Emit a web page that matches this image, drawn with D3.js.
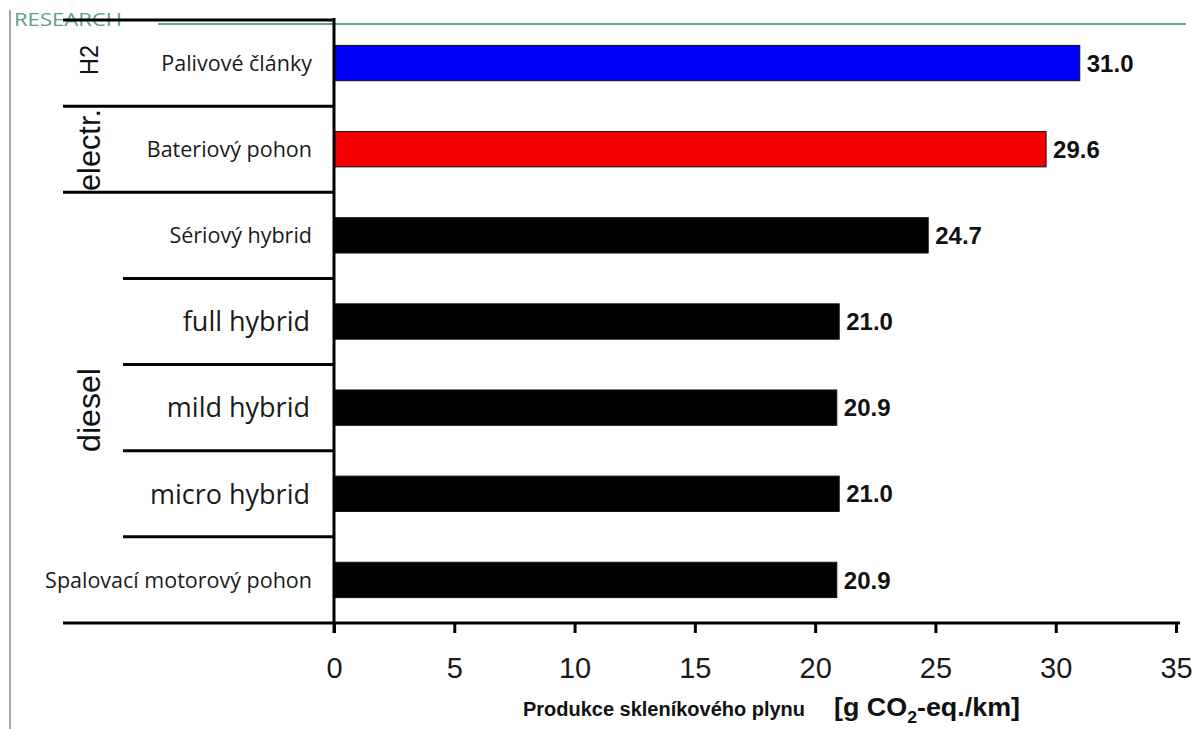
<!DOCTYPE html>
<html lang="cs">
<head>
  <meta charset="utf-8">
  <title>Produkce skleníkového plynu</title>
  <script src="https://d3js.org/d3.v7.min.js"></script>
  <style>
    body { margin: 0; background: #fff; }
    svg { display: block; }
  </style>
</head>
<body>
  <script>
  // data
  var categories = ['Palivové články', 'Bateriový pohon', 'Sériový hybrid',
    'full hybrid', 'mild hybrid', 'micro hybrid', 'Spalovací motorový pohon'];
  var values = [31.0, 29.6, 24.7, 21.0, 20.9, 21.0, 20.9];
  var barColors = ['#0000f5', '#f50000', '#000', '#000', '#000', '#000', '#000'];
  var bigLabel = [false, false, false, true, true, true, false];
  var groups = ['H2', 'electr.', 'diesel'];
  var groupSizes = [1, 1, 5];
  var ticks = [0, 5, 10, 15, 20, 25, 30, 35];

  var w = 1201, h = 729;
  var svg = d3.select('body').append('svg')
    .attr('width', w)
    .attr('height', h);

  var plotTop = 20, plotBottom = 623;
  var x = d3.scaleLinear().domain([0, 35]).range([334, 1176]);
  var y = d3.scaleBand()
    .domain(categories)
    .range([plotTop, plotBottom])
    .paddingInner(0.59)
    .paddingOuter(0.295);
  var step = y.step();

  // page decoration
  svg.append('line')
    .attr('x1', 10).attr('x2', 10).attr('y1', 10).attr('y2', h)
    .style('stroke', '#888').style('stroke-width', 1.5);
  svg.append('text')
    .attr('x', 14).attr('y', 26)
    .attr('textLength', 108)
    .attr('lengthAdjust', 'spacingAndGlyphs')
    .style('font-family', 'Open Sans, sans-serif')
    .style('font-size', '18px')
    .style('fill', '#5e9e8c')
    .text('RESEARCH');
  svg.append('line')
    .attr('x1', 158).attr('x2', 1186).attr('y1', 24).attr('y2', 24)
    .style('stroke', '#5aa58c').style('stroke-width', 2);

  // bars
  svg.selectAll('rect.bar')
    .data(values)
    .enter().append('rect')
    .attr('class', 'bar')
    .attr('x', x(0))
    .attr('y', function(d, i) { return y(categories[i]); })
    .attr('width', function(d) { return x(d) - x(0); })
    .attr('height', y.bandwidth())
    .style('fill', function(d, i) { return barColors[i]; })
    .style('stroke', '#111')
    .style('stroke-width', 1);

  svg.selectAll('text.val')
    .data(values)
    .enter().append('text')
    .attr('class', 'val')
    .attr('x', function(d) { return x(d) + 7; })
    .attr('y', function(d, i) { return y(categories[i]) + y.bandwidth() / 2; })
    .attr('dy', '0.36em')
    .style('font-family', 'Liberation Sans, Arial, sans-serif')
    .style('font-weight', 'bold')
    .style('font-size', '24px')
    .style('fill', '#111')
    .text(function(d) { return d.toFixed(1); });

  // category labels
  svg.selectAll('text.cat')
    .data(categories)
    .enter().append('text')
    .attr('class', 'cat')
    .attr('x', function(d, i) { return bigLabel[i] ? 310 : 312; })
    .attr('y', function(d) { return y(d) + y.bandwidth() / 2; })
    .attr('dy', '0.36em')
    .attr('text-anchor', 'end')
    .style('font-family', 'Open Sans, sans-serif')
    .style('font-size', function(d, i) { return bigLabel[i] ? '27px' : '21.5px'; })
    .style('fill', '#1a1a1a')
    .text(function(d) { return d; });

  // separators between rows (longer at group edges)
  var edges = [0];
  groupSizes.forEach(function(n, i) { edges.push(edges[i] + n); });
  var seps = d3.range(categories.length + 1);
  svg.selectAll('line.sep')
    .data(seps)
    .enter().append('line')
    .attr('class', 'sep')
    .attr('x1', function(k) { return edges.indexOf(k) >= 0 ? 63 : 123; })
    .attr('x2', function(k) { return k === categories.length ? 1180 : x(0); })
    .attr('y1', function(k) { return plotTop + k * step; })
    .attr('y2', function(k) { return plotTop + k * step; })
    .style('stroke', '#000')
    .style('stroke-width', 3);

  // group labels, rotated
  var groupSize = [25, 31, 31];
  var groupLen = [30, 82, 84];
  var groupMid = [60, 150, 410];
  svg.selectAll('text.grp')
    .data(groups)
    .enter().append('text')
    .attr('class', 'grp')
    .attr('transform', function(d, i) {
      return 'translate(' + [i === 0 ? 98 : 100, groupMid[i]] + ') rotate(-90)';
    })
    .attr('text-anchor', 'middle')
    .attr('textLength', function(d, i) { return groupLen[i]; })
    .attr('lengthAdjust', 'spacingAndGlyphs')
    .style('font-family', 'Liberation Sans, Arial, sans-serif')
    .style('font-size', function(d, i) { return groupSize[i] + 'px'; })
    .style('fill', '#111')
    .text(function(d) { return d; });

  // vertical axis line
  svg.append('line')
    .attr('x1', x(0)).attr('x2', x(0)).attr('y1', 18).attr('y2', 633)
    .style('stroke', '#000').style('stroke-width', 3);

  // bottom axis ticks
  var axis = svg.append('g')
    .attr('transform', 'translate(0,' + plotBottom + ')')
    .call(d3.axisBottom(x).tickValues(ticks).tickSize(10).tickPadding(24)
      .tickFormat(d3.format('d')));
  axis.select('.domain').remove();
  axis.selectAll('.tick line').style('stroke-width', 3);
  axis.selectAll('.tick text')
    .style('font-family', 'Liberation Sans Narrow, Liberation Sans, Arial, sans-serif')
    .style('font-size', '29px')
    .style('fill', '#1a1a1a');

  // axis title
  svg.append('text')
    .attr('x', 523).attr('y', 716)
    .attr('textLength', 282)
    .attr('lengthAdjust', 'spacingAndGlyphs')
    .style('font-family', 'Liberation Sans Narrow, Liberation Sans, Arial, sans-serif')
    .style('font-weight', 'bold')
    .style('font-size', '20px')
    .style('fill', '#111')
    .text('Produkce skleníkového plynu');

  var unit = svg.append('text')
    .attr('x', 834).attr('y', 716)
    .attr('textLength', 186)
    .attr('lengthAdjust', 'spacingAndGlyphs')
    .style('font-family', 'Liberation Sans, Arial, sans-serif')
    .style('font-weight', 'bold')
    .style('font-size', '26px')
    .style('fill', '#111');
  unit.append('tspan').text('[g CO');
  unit.append('tspan').attr('dy', 7).style('font-size', '17px').text('2');
  unit.append('tspan').attr('dy', -7).text('-eq./km]');
  </script>
</body>
</html>
